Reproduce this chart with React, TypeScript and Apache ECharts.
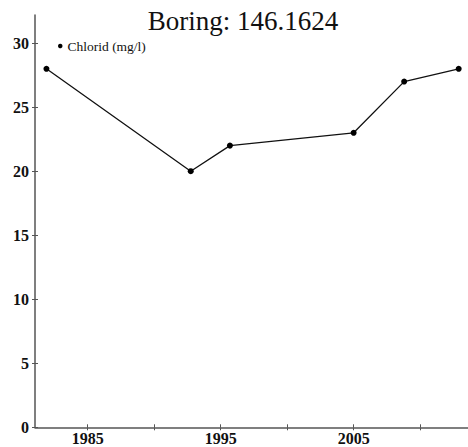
import React, { useEffect, useRef } from "react";
import * as echarts from "echarts";

const titleText = "Boring: 146.1624";
const seriesName = "Chlorid (mg/l)";
const years = [1981.9, 1992.75, 1995.7, 2005.0, 2008.8, 2012.9];
const values = [28, 20, 22, 23, 27, 28];
const xTickValues = [1985, 1990, 1995, 2000, 2005, 2010];
const xLabelValues = [1985, 1995, 2005];
const yTickValues = [0, 5, 10, 15, 20, 25, 30];

const FONT = "'Liberation Serif', 'Times New Roman', serif";
const AXIS_COLOR = "#555";

export default function App() {
  const ref = useRef<HTMLDivElement>(null);
  useEffect(() => {
    if (!ref.current) return;
    const chart = echarts.init(ref.current, null, { renderer: "svg" });
    const xMin = 1981.04;
    const xMax = 2013.6;
    const yMin = 0;
    const yMax = 32.2;
    chart.setOption({
      animation: false,
      backgroundColor: "#fff",
      title: {
        text: titleText,
        left: 238,
        textAlign: "center",
        top: 2,
        textStyle: { fontFamily: FONT, fontSize: 27, fontWeight: "normal", color: "#111" },
      },
      legend: {
        left: 53,
        top: 34,
        icon: "circle",
        itemWidth: 4.5,
        itemHeight: 4.5,
        itemGap: 5,
        textStyle: { fontFamily: FONT, fontSize: 13.5, color: "#111", padding: [0, 0, 0, 0] },
        data: [seriesName],
      },
      grid: { left: 35, right: 0, top: 15, bottom: 19.7, containLabel: false },
      xAxis: [
        {
          type: "value",
          min: xMin,
          max: xMax,
          position: "bottom",
          axisLine: { onZero: false, lineStyle: { color: AXIS_COLOR, width: 1.5 } },
          axisTick: { show: true, length: 3, customValues: xTickValues, lineStyle: { color: AXIS_COLOR, width: 1 } },
          axisLabel: {
            customValues: xLabelValues,
            formatter: (v: number) => String(Math.round(v)),
            fontFamily: FONT,
            fontSize: 16,
            fontWeight: "bold",
            color: "#111",
            margin: 3,
          },
          splitLine: { show: false },
        },
        {
          type: "value",
          min: xMin,
          max: xMax,
          position: "bottom",
          axisLine: { show: false, onZero: false },
          axisTick: { show: true, inside: true, length: 3, customValues: xTickValues, lineStyle: { color: AXIS_COLOR, width: 1 } },
          axisLabel: { show: false },
          splitLine: { show: false },
        },
      ],
      yAxis: [
        {
          type: "value",
          min: yMin,
          max: yMax,
          position: "left",
          axisLine: { show: true, onZero: false, lineStyle: { color: AXIS_COLOR, width: 1.5 } },
          axisTick: { show: true, length: 3, customValues: yTickValues, lineStyle: { color: AXIS_COLOR, width: 1 } },
          axisLabel: {
            customValues: yTickValues,
            fontFamily: FONT,
            fontSize: 16,
            fontWeight: "bold",
            color: "#111",
            margin: 6,
          },
          splitLine: { show: false },
        },
        {
          type: "value",
          min: yMin,
          max: yMax,
          position: "left",
          axisLine: { show: false, onZero: false },
          axisTick: { show: true, inside: true, length: 3, customValues: yTickValues, lineStyle: { color: AXIS_COLOR, width: 1 } },
          axisLabel: { show: false },
          splitLine: { show: false },
        },
      ],
      series: [
        {
          name: seriesName,
          type: "line",
          xAxisIndex: 0,
          yAxisIndex: 0,
          data: years.map((y, i) => [y, values[i]]),
          symbol: "circle",
          symbolSize: 6,
          itemStyle: { color: "#000" },
          lineStyle: { color: "#111", width: 1.3 },
        },
      ],
    });
    return () => chart.dispose();
  }, []);
  return (
    <div
      ref={ref}
      style={{ position: "fixed", left: 0, top: 0, width: 468, height: 447, background: "#fff" }}
    />
  );
}
